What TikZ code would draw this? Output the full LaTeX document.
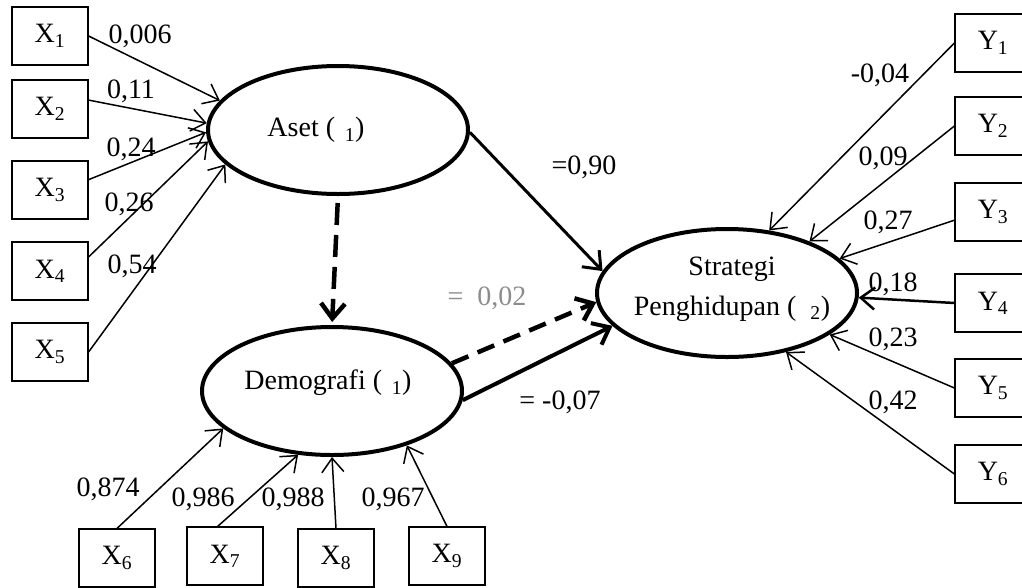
\documentclass[tikz,border=0pt]{standalone}
\usepackage{fontspec}
\setmainfont{Liberation Serif}
\usetikzlibrary{shapes.geometric,arrows.meta}
\begin{document}
\begin{tikzpicture}[x=1pt,y=-1pt,
    every node/.style={font=\fontsize{28}{40}\selectfont},
    ind/.style={draw,line width=1.2pt,minimum width=76pt,minimum height=58pt,inner sep=0pt},
    lat/.style={draw,ellipse,line width=4pt,minimum width=260pt,minimum height=128pt,inner sep=0pt},
    load/.style={draw,-{Straight Barb[length=14pt,width=22pt]},line width=1.5pt},
    jalur/.style={draw,-{Straight Barb[length=15pt,width=24pt]},line width=3.5pt},
    putus/.style={jalur,line width=4.5pt,dash pattern=on 22pt off 10pt}]

        \useasboundingbox (0,0) rectangle (1022,587);
        \clip (0,0) rectangle (1022,587);

        % indikator
        \begin{scope}[every node/.append style={ind}]
          \node (X1) at (50,36)    {X\textsubscript{1}};
          \node (X2) at (50,109)   {X\textsubscript{2}};
          \node (X3) at (50,190)   {X\textsubscript{3}};
          \node (X4) at (50,271)   {X\textsubscript{4}};
          \node (X5) at (50,352)   {X\textsubscript{5}};
          \node (X6) at (117,558)  {X\textsubscript{6}};
          \node (X7) at (225,556)  {X\textsubscript{7}};
          \node (X8) at (336,558)  {X\textsubscript{8}};
          \node (X9) at (447,556)  {X\textsubscript{9}};
          \node (Y1) at (993,43)   {Y\textsubscript{1}};
          \node (Y2) at (993,126)  {Y\textsubscript{2}};
          \node (Y3) at (993,212)  {Y\textsubscript{3}};
          \node (Y4) at (993,303)  {Y\textsubscript{4}};
          \node (Y5) at (993,388)  {Y\textsubscript{5}};
          \node (Y6) at (993,474)  {Y\textsubscript{6}};
        \end{scope}

        % variabel laten
        \node[lat] (A) at (338,130) {};
        \node[lat] (D) at (332,391) {};
        \node[lat] (S) at (727,293) {};
        \node (At) at (316,130) {Aset (\hspace{0.35em}\textsubscript{1})};
        \node (Dt) at (328,383) {Demografi (\hspace{0.35em}\textsubscript{1})};
        \node[align=center] (St) at (732,289) {Strategi\\Penghidupan (\hspace{0.5em}\textsubscript{2})};

        % loading
        \path (X1.east) edge[load] (A.166);
        \path (X2.13)   edge[load] (A.177);
        \path (X3.15)   edge[load] (A.181);
        \path (X4.20)   edge[load] (A.185);
        \path (X5.east) edge[load] (A.197);
        \path (X6.north) edge[load] (D.199);
        \path (X7.104)   edge[load] (D.242);
        \path (X8.north) edge[load] (D.270);
        \path (X9.north) edge[load] (D.324);
        \path (Y1.west) edge[load] (S.56);
        \path (Y2.west) edge[load] (S.32);
        \path (Y3.192)  edge[load] (S.17);
        \path (Y4.west) edge[load,line width=2.5pt] (S.358);
        \path (Y5.west) edge[load] (S.338);
        \path (Y6.west) edge[load] (S.315);

        % jalur struktural
        \path (A.359)   edge[jalur,line width=3pt] (S.170);
        \path (A.south) edge[putus,shorten <=7pt,shorten >=3pt] (D.north);
        \path (D.13)    edge[putus,dash pattern=on 18pt off 10pt] (S.184);
        \path (D.356)   edge[jalur,line width=4pt] (S.196);

        % koefisien
        \begin{scope}[every node/.append style={inner sep=0pt}]
          \node (l1) at (140,36)  {0,006};
          \node (l2) at (131,91)  {0,11};
          \node (l3) at (131,149) {0,24};
          \node (l4) at (129,204) {0,26};
          \node (l5) at (132,266) {0,54};
          \node (l6) at (108,489) {0,874};
          \node (l7) at (203,499) {0,986};
          \node (l8) at (293,499) {0,988};
          \node (l9) at (393,499) {0,967};
          \node (m1) at (880,75)  {-0,04};
          \node (m2) at (883,158) {0,09};
          \node (m3) at (888,222) {0,27};
          \node (m4) at (893,284) {0,18};
          \node (m5) at (893,339) {0,23};
          \node (m6) at (893,402) {0,42};
          \node (p1) at (584,167) {=0,90};
          \node[text=black!45] (p2) at (487,298) {=\hspace{0.5em}0,02};
          \node (p3) at (560,402) {= -0,07};
        \end{scope}

      \end{tikzpicture}
\end{document}
